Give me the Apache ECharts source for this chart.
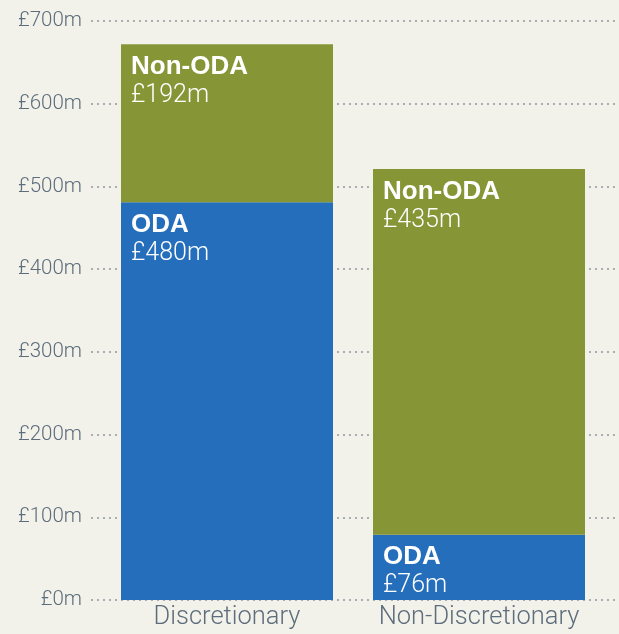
<!DOCTYPE html>
<html>
<head>
<meta charset="utf-8">
<script src="https://cdn.jsdelivr.net/npm/echarts@6/dist/echarts.min.js"></script>
<style>
  html, body { margin: 0; padding: 0; background: #f2f2ea; }
  #chart { width: 619px; height: 634px; }
</style>
</head>
<body>
<div id="chart"></div>
<script>
  // categories and values (bar heights, labels as printed)
  var categories = ['Discretionary', 'Non-Discretionary'];
  var odaValues = [481, 79];
  var nonOdaValues = [191, 442];
  var odaLabels = ['£480m', '£76m'];
  var nonOdaLabels = ['£192m', '£435m'];
  var yTicks = [0, 100, 200, 300, 400, 500, 600, 700];

  var BLUE = '#256ebb';
  var OLIVE = '#869636';
  var TEXT = '#5d6d7c';

  function moneyLabel(v) { return '£' + v + 'm'; }

  function barLabel(name, texts) {
    return {
      show: true,
      position: 'insideTopLeft',
      distance: 0,
      padding: [8, 0, 0, 10],
      formatter: function (p) {
        return '{name|' + name + '}\n{val|' + texts[p.dataIndex] + '}';
      },
      rich: {
        name: { fontFamily: 'Liberation Sans', fontWeight: 'bold', fontSize: 26, color: '#fff', lineHeight: 29 },
        val: { fontFamily: 'Roboto', fontWeight: 300, fontSize: 25, color: '#fff', lineHeight: 29 }
      }
    };
  }

  var chart = echarts.init(document.getElementById('chart'));
  chart.setOption({
    backgroundColor: '#f2f2ea',
    animation: false,
    grid: [
      { left: 101, right: 14, top: 21, bottom: 34 },
      { left: 91, right: 0, top: 21, bottom: 34 }
    ],
    xAxis: [
      {
        type: 'category',
        gridIndex: 0,
        data: categories,
        axisLine: { show: false },
        axisTick: { show: false },
        axisLabel: { interval: 0, hideOverlap: false, color: TEXT, fontFamily: 'Roboto', fontWeight: 300, fontSize: 25.5, margin: 5 }
      },
      { type: 'value', gridIndex: 1, show: false }
    ],
    yAxis: [
      {
        type: 'value', gridIndex: 0, min: 0, max: 700, interval: 100,
        axisLine: { show: false }, axisTick: { show: false },
        axisLabel: { show: false }, splitLine: { show: false }
      },
      {
        type: 'value', gridIndex: 1, min: yTicks[0], max: yTicks[yTicks.length - 1], interval: 100,
        axisLine: { show: false }, axisTick: { show: false },
        axisLabel: { color: TEXT, fontFamily: 'Roboto', fontWeight: 300, fontSize: 20.5, margin: 9, formatter: moneyLabel },
        splitLine: { lineStyle: { color: '#a9aeb2', width: 2, type: [2, 4] } },
        z: 0
      }
    ],
    series: [
      {
        name: 'ODA',
        type: 'bar',
        stack: 'total',
        xAxisIndex: 0, yAxisIndex: 0,
        barWidth: 212,
        data: odaValues,
        itemStyle: { color: BLUE },
        label: barLabel('ODA', odaLabels),
        z: 3
      },
      {
        name: 'Non-ODA',
        type: 'bar',
        stack: 'total',
        xAxisIndex: 0, yAxisIndex: 0,
        barWidth: 212,
        data: nonOdaValues,
        itemStyle: { color: OLIVE },
        label: barLabel('Non-ODA', nonOdaLabels),
        z: 3
      }
    ]
  });
</script>
</body>
</html>
